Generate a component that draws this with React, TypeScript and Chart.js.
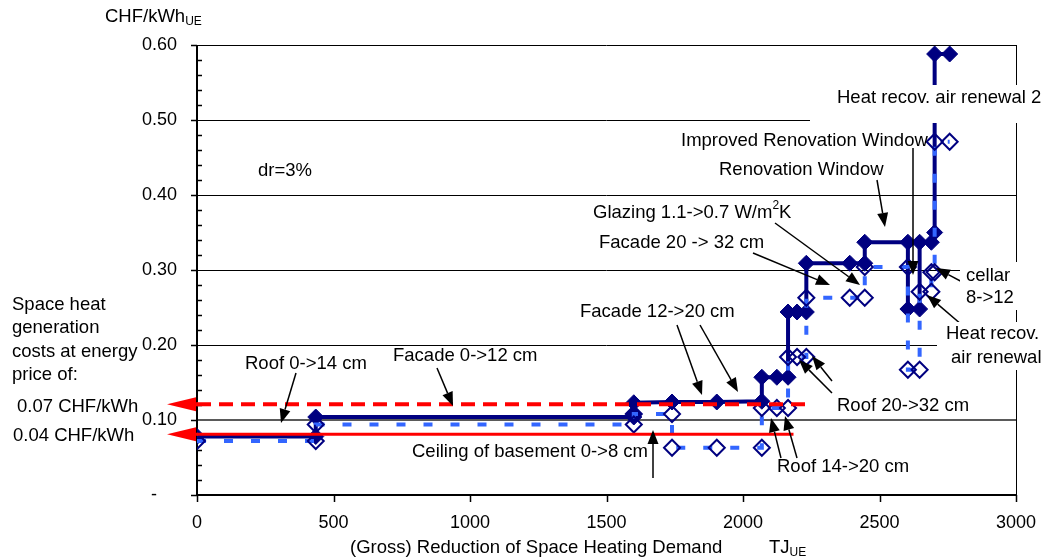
import React, { useEffect, useRef } from 'react';
import { Chart, registerables } from 'chart.js';

Chart.register(...registerables);

// ---------- data ----------
const xTickValues = [0, 500, 1000, 1500, 2000, 2500, 3000];
const yTickValues = [0, 0.1, 0.2, 0.3, 0.4, 0.5, 0.6];

// dr=3%, main cost curve (filled diamonds, solid navy)
const darkX = [0, 435, 435, 1600, 1600, 1600, 1740, 1904, 2069, 2069, 2124, 2165, 2165, 2198, 2232, 2232, 2391, 2446, 2446, 2604, 2604, 2647, 2647, 2690, 2702, 2702, 2757];
const darkY = [0.078, 0.078, 0.104, 0.104, 0.108, 0.123, 0.124, 0.124, 0.125, 0.157, 0.157, 0.157, 0.244, 0.244, 0.244, 0.309, 0.309, 0.309, 0.337, 0.337, 0.248, 0.248, 0.337, 0.337, 0.35, 0.588, 0.588];

// second cost curve (open diamonds, dashed blue)
const lightX = [0, 435, 435, 1600, 1600, 1740, 1740, 1904, 2069, 2069, 2124, 2165, 2165, 2198, 2232, 2232, 2391, 2446, 2446, 2604, 2604, 2647, 2647, 2690, 2690, 2702, 2702, 2757];
const lightY = [0.072, 0.072, 0.094, 0.094, 0.108, 0.108, 0.063, 0.063, 0.063, 0.116, 0.116, 0.116, 0.184, 0.184, 0.184, 0.263, 0.263, 0.263, 0.304, 0.304, 0.167, 0.167, 0.271, 0.271, 0.297, 0.297, 0.471, 0.471];

// energy price reference lines
const priceLabels = ['0.07 CHF/kWh', '0.04 CHF/kWh'];
const priceCostLevel = [0.121, 0.081];
const priceLineEnd = [2232, 2185];

// ---------- styles ----------
const FONT = '"Liberation Sans", Arial, Helvetica, sans-serif';
const NAVY = '#000080';
const LIGHT = '#3366ff';
const RED = '#ff0000';
const TXT = 18.5;

type Part = { t: string; s?: number; dy?: number };
type Note = { parts: Part[]; x: number; y: number; box?: [number, number, number, number] };

const notes: Note[] = [
  { parts: [{ t: 'dr=3%' }], x: 258, y: 171 },
  { parts: [{ t: 'Heat recov. air renewal 2' }], x: 837, y: 98, box: [810, 85, 1045, 123] },
  { parts: [{ t: 'Improved Renovation Window' }], x: 681, y: 141 },
  { parts: [{ t: 'Renovation Window' }], x: 719, y: 170 },
  { parts: [{ t: 'Glazing 1.1->0.7 W/m' }, { t: '2', s: 12, dy: -7 }, { t: 'K' }], x: 593, y: 213 },
  { parts: [{ t: 'Facade 20 -> 32 cm' }], x: 599, y: 243 },
  { parts: [{ t: 'Facade 12->20 cm' }], x: 580, y: 312 },
  { parts: [{ t: 'Facade 0->12 cm' }], x: 393, y: 356 },
  { parts: [{ t: 'Roof 0->14 cm' }], x: 245, y: 364 },
  { parts: [{ t: 'Ceiling of basement 0->8 cm' }], x: 412, y: 452 },
  { parts: [{ t: 'Roof 14->20 cm' }], x: 777, y: 467 },
  { parts: [{ t: 'Roof 20->32 cm' }], x: 837, y: 406 },
  { parts: [{ t: 'cellar' }], x: 966, y: 276, box: [960, 262, 1045, 310] },
  { parts: [{ t: '8->12' }], x: 966, y: 298 },
  { parts: [{ t: 'Heat recov.' }], x: 946, y: 334, box: [937, 322, 1045, 370] },
  { parts: [{ t: 'air renewal' }], x: 951, y: 358 },
  { parts: [{ t: 'Space heat' }], x: 12, y: 305 },
  { parts: [{ t: 'generation' }], x: 12, y: 328 },
  { parts: [{ t: 'costs at energy' }], x: 12, y: 352 },
  { parts: [{ t: 'price of:' }], x: 12, y: 375 },
  { parts: [{ t: priceLabels[0] }], x: 17, y: 407 },
  { parts: [{ t: priceLabels[1] }], x: 13, y: 436 },
  { parts: [{ t: 'CHF/kWh' }, { t: 'UE', s: 12, dy: 5 }], x: 105, y: 17 },
  { parts: [{ t: '(Gross) Reduction of Space Heating Demand' }], x: 350, y: 548 },
  { parts: [{ t: 'TJ' }, { t: 'UE', s: 12, dy: 5 }], x: 769, y: 548 },
];

// arrows: [fromX, fromY, tipX, tipY]
const arrows: [number, number, number, number][] = [
  [296, 373, 281, 423],
  [437, 368, 453, 406],
  [653, 478, 653, 430],
  [677, 325, 702, 395],
  [700, 325, 738, 392],
  [781, 458, 771, 418],
  [797, 458, 785, 416],
  [832, 393, 799, 360],
  [832, 381, 812, 356],
  [753, 253, 830, 285],
  [775, 223, 860, 285],
  [877, 180, 885, 227],
  [913, 148, 913, 275],
  [966, 284, 936, 268],
  [962, 325, 927, 295],
];

function drawParts(ctx: CanvasRenderingContext2D, parts: Part[], x: number, y: number) {
  let cx = x;
  for (const p of parts) {
    const size = p.s ?? TXT;
    ctx.font = `${size}px ${FONT}`;
    ctx.fillText(p.t, cx, y + (p.dy ?? 0));
    cx += ctx.measureText(p.t).width;
  }
}

function drawArrow(ctx: CanvasRenderingContext2D, x1: number, y1: number, x2: number, y2: number) {
  const ang = Math.atan2(y2 - y1, x2 - x1);
  const len = 14;
  const hw = 5.5;
  const bx = x2 - Math.cos(ang) * len;
  const by = y2 - Math.sin(ang) * len;
  ctx.beginPath();
  ctx.moveTo(x1, y1);
  ctx.lineTo(bx, by);
  ctx.stroke();
  ctx.beginPath();
  ctx.moveTo(x2, y2);
  ctx.lineTo(bx + Math.sin(ang) * hw, by - Math.cos(ang) * hw);
  ctx.lineTo(bx - Math.sin(ang) * hw, by + Math.cos(ang) * hw);
  ctx.closePath();
  ctx.fill();
}

const decoPlugin = {
  id: 'deco',
  beforeDatasetsDraw(chart: any) {
    const { ctx, chartArea: a, scales } = chart;
    const y = scales.y;
    const x = scales.x;
    ctx.save();
    // horizontal gridlines
    for (const v of yTickValues) {
      if (v <= 0) continue;
      const py = Math.round(y.getPixelForValue(v));
      ctx.beginPath();
      if (Math.abs(v - 0.1) < 1e-9) {
        ctx.strokeStyle = '#5a5a5a';
        ctx.lineWidth = 2;
        ctx.moveTo(a.left, py);
        ctx.lineTo(a.right, py);
      } else {
        ctx.strokeStyle = '#000';
        ctx.lineWidth = 1;
        ctx.moveTo(a.left, py + 0.5);
        ctx.lineTo(a.right, py + 0.5);
      }
      ctx.stroke();
    }
    // right border
    ctx.strokeStyle = '#000';
    ctx.lineWidth = 1;
    ctx.beginPath();
    ctx.moveTo(Math.round(a.right) + 0.5, a.top);
    ctx.lineTo(Math.round(a.right) + 0.5, a.bottom);
    ctx.stroke();
    // axes
    ctx.lineWidth = 2;
    ctx.beginPath();
    ctx.moveTo(a.left, a.top);
    ctx.lineTo(a.left, a.bottom + 1);
    ctx.moveTo(a.left - 1, a.bottom);
    ctx.lineTo(a.right + 1, a.bottom);
    ctx.stroke();
    // y ticks: major outside, minor inside
    ctx.lineWidth = 1.5;
    ctx.beginPath();
    for (let i = 0; i <= 30; i++) {
      const v = i * 0.02;
      const py = Math.round(y.getPixelForValue(v)) + 0.5;
      if (i % 5 === 0) {
        ctx.moveTo(a.left - 6, py);
        ctx.lineTo(a.left, py);
      } else {
        ctx.moveTo(a.left, py);
        ctx.lineTo(a.left + 5, py);
      }
    }
    // x ticks
    for (const v of xTickValues) {
      const px = Math.round(x.getPixelForValue(v)) + 0.5;
      ctx.moveTo(px, a.bottom);
      ctx.lineTo(px, a.bottom + 7);
    }
    ctx.stroke();
    ctx.restore();
  },
  afterDatasetsDraw(chart: any) {
    const { ctx, chartArea: a, scales } = chart;
    const y = scales.y;
    ctx.save();
    // red arrow heads on the price lines
    ctx.fillStyle = RED;
    ctx.strokeStyle = RED;
    priceCostLevel.forEach((v, i) => {
      const py = y.getPixelForValue(v);
      ctx.beginPath();
      ctx.moveTo(a.left - 30, py);
      ctx.lineTo(a.left - 1, py - 7);
      ctx.lineTo(a.left - 1, py + 7);
      ctx.closePath();
      ctx.fill();
      ctx.lineWidth = i === 0 ? 4 : 3;
      ctx.beginPath();
      ctx.moveTo(a.left - 2, py);
      ctx.lineTo(a.left + 1, py);
      ctx.stroke();
    });
    // black annotation arrows
    ctx.strokeStyle = '#000';
    ctx.fillStyle = '#000';
    ctx.lineWidth = 1.5;
    for (const [x1, y1, x2, y2] of arrows) drawArrow(ctx, x1, y1, x2, y2);
    // label boxes and texts
    for (const n of notes) {
      if (n.box) {
        ctx.fillStyle = '#fff';
        ctx.fillRect(n.box[0], n.box[1], n.box[2] - n.box[0], n.box[3] - n.box[1]);
      }
    }
    ctx.fillStyle = '#000';
    ctx.textAlign = 'left';
    ctx.textBaseline = 'middle';
    for (const n of notes) drawParts(ctx, n.parts, n.x, n.y);
    ctx.restore();
  },
};

const zeroPad = (s: any) => {
  s.paddingLeft = 0;
  s.paddingRight = 0;
  s.paddingTop = 0;
  s.paddingBottom = 0;
};

export default function App() {
  const ref = useRef<HTMLCanvasElement | null>(null);

  useEffect(() => {
    if (!ref.current) return;
    const toPts = (xs: number[], ys: number[]) => xs.map((v, i) => ({ x: v, y: ys[i] }));
    const chart = new Chart(ref.current, {
      type: 'line',
      data: {
        datasets: [
          {
            label: '0.07 CHF/kWh',
            data: [{ x: 0, y: priceCostLevel[0] }, { x: priceLineEnd[0], y: priceCostLevel[0] }],
            borderColor: RED,
            borderWidth: 4,
            borderDash: [14, 8],
            pointRadius: 0,
          },
          {
            label: '0.04 CHF/kWh',
            data: [{ x: 0, y: priceCostLevel[1] }, { x: priceLineEnd[1], y: priceCostLevel[1] }],
            borderColor: RED,
            borderWidth: 3,
            pointRadius: 0,
          },
          {
            label: 'variant',
            data: toPts(lightX, lightY),
            borderColor: LIGHT,
            borderWidth: 4,
            borderDash: [9, 18],
            pointStyle: 'rectRot',
            pointRadius: 8,
            pointBorderColor: NAVY,
            pointBackgroundColor: 'rgba(0,0,0,0)',
            pointBorderWidth: 2,
          },
          {
            label: 'dr=3%',
            data: toPts(darkX, darkY),
            borderColor: NAVY,
            borderWidth: 4,
            pointStyle: 'rectRot',
            pointRadius: 8,
            pointBorderColor: NAVY,
            pointBackgroundColor: NAVY,
            pointBorderWidth: 1,
          },
        ],
      },
      options: {
        animation: false,
        responsive: true,
        maintainAspectRatio: false,
        layout: { padding: { top: 45, right: 29, left: 0, bottom: 0 } },
        elements: { line: { tension: 0 } },
        plugins: { legend: { display: false }, tooltip: { enabled: false } },
        scales: {
          x: {
            type: 'linear',
            min: 0,
            max: 3000,
            afterFit: (s: any) => { s.height = 64; zeroPad(s); },
            afterBuildTicks: (s: any) => { s.ticks = xTickValues.map((v) => ({ value: v })); },
            grid: { display: false, drawTicks: false },
            border: { display: false },
            ticks: {
              padding: 17,
              color: '#000',
              font: { family: FONT, size: 18 },
              maxRotation: 0,
              callback: (v: any) => String(v),
            },
          },
          y: {
            type: 'linear',
            min: 0,
            max: 0.6,
            afterFit: (s: any) => { s.width = 197; zeroPad(s); },
            afterBuildTicks: (s: any) => { s.ticks = yTickValues.map((v) => ({ value: v })); },
            grid: { display: false, drawTicks: false },
            border: { display: false },
            ticks: {
              padding: 20,
              color: '#000',
              font: { family: FONT, size: 18 },
              callback: (v: any) => (Number(v) === 0 ? '-    ' : Number(v).toFixed(2)),
            },
          },
        },
      },
      plugins: [decoPlugin],
    });
    return () => chart.destroy();
  }, []);

  return (
    <div style={{ position: 'fixed', left: 0, top: 0, width: 1045, height: 559, background: '#fff' }}>
      <canvas ref={ref} />
    </div>
  );
}
